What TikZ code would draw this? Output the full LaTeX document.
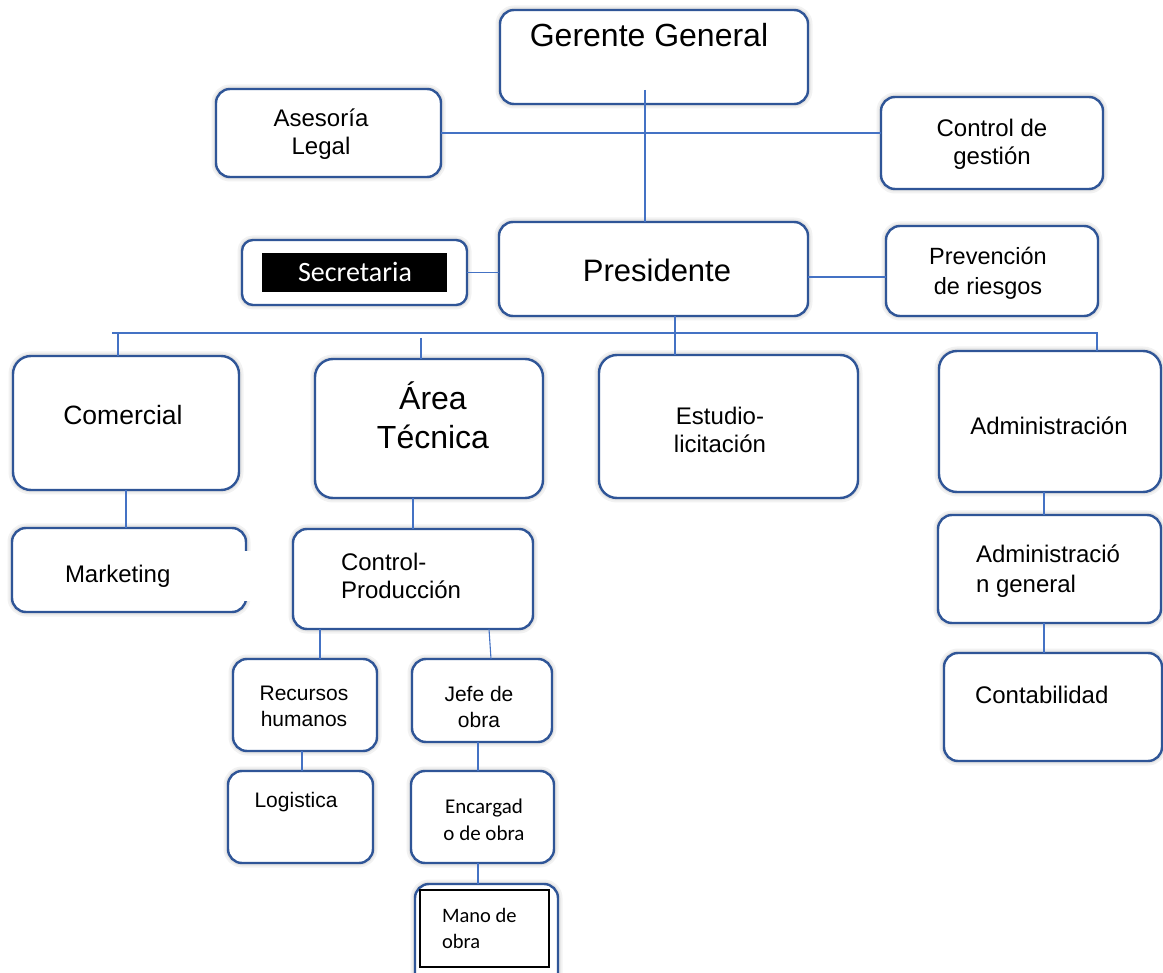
\documentclass[tikz,border=0pt]{standalone}
\usepackage{fontspec}
\setmainfont{Liberation Sans}
\newfontfamily\calibri{Carlito}
\definecolor{boxblue}{RGB}{47,85,151}
\definecolor{lineblue}{RGB}{68,114,196}
\newcommand\mybox[6][]{\node[box,#1, minimum width={(#5)-(#3)}, minimum height={(#6)-(#4)}] (#2) at ({((#3)+(#5))/2},{((#4)+(#6))/2}) {};}
\tikzset{
  box/.style={draw=boxblue, line width=2.4pt, rounded corners=14pt, fill=white, inner sep=0pt, outer sep=0pt,
    preaction={draw=black, opacity=0.05, line width=9pt},
    preaction={draw=black, opacity=0.06, line width=5pt}},
  conn/.style={draw=lineblue, line width=1.1pt},
  txt/.style={inner sep=0pt, outer sep=0pt, align=center, text=black},
  ltxt/.style={inner sep=0pt, outer sep=0pt, align=left, text=black},
  f32/.style={font=\fontsize{32}{39}\selectfont},
  f31/.style={font=\fontsize{31}{37}\selectfont},
  f26/.style={font=\fontsize{26.5}{31}\selectfont},
  f24/.style={font=\fontsize{24}{28}\selectfont},
  f21/.style={font=\fontsize{21}{26}\selectfont},
}
\begin{document}
\begin{tikzpicture}[x=1pt,y=-1pt]
\useasboundingbox[fill=white] (0,0) rectangle (1163,973);
% boxes
\mybox{gg}{500}{10}{808}{104}
\mybox{ases}{216}{89}{441}{177}
\mybox{ctrl}{881}{97}{1103}{189}
\mybox[rounded corners=11pt]{sec}{242}{240}{467}{305}
\mybox{pres}{499}{222}{808}{316}
\mybox{prev}{886}{226}{1098}{316}
\mybox[rounded corners=18pt]{com}{13}{356}{239}{490}
\mybox[rounded corners=18pt]{at}{315}{359}{543}{498}
\mybox[rounded corners=18pt]{estu}{599}{355}{858}{498}
\mybox[rounded corners=18pt]{adm}{939}{351}{1161}{492}
\mybox{mkt}{12}{528}{246}{612}
\mybox{cp}{293}{529}{533}{629}
\mybox{admg}{938}{515}{1161}{623}
\mybox{cont}{944}{653}{1162}{761}
\mybox{rh}{233}{659}{377}{751}
\mybox{jefe}{412}{659}{552}{742}
\mybox{log}{228}{771}{373}{863}
\mybox{enc}{411}{771}{554}{863}
\mybox{mano}{415}{884}{558}{990}
\fill[white] (236,551) rectangle (252,601);
% inner boxes
\node[fill=black, inner sep=0pt, minimum width=185, minimum height=39] (secin) at (354.5,272.5) {};
\node[draw=black, line width=2pt, fill=white, inner sep=0pt, minimum width=129, minimum height=77] (manoin) at (484.5,928.5) {};
% texts (multi-line nodes: base = last line)
\node[txt, f32, anchor=base] (gg-t) at (649,47) {Gerente General};
\node[txt, f24, anchor=base] (ases-t) at (321,155) {Asesoría\\Legal};
\node[txt, f24, anchor=base] (ctrl-t) at (992,165) {Control de\\gestión};
\node[txt, anchor=base, text=white, font=\calibri\fontsize{28}{32}\selectfont] (sec-t) at (355,282) {Secretaria};
\node[txt, f31, anchor=base] (pres-t) at (657,282) {Presidente};
\node[txt, font=\fontsize{23.5}{30}\selectfont, anchor=base] (prev-t) at (988,295) {Prevención\\de riesgos};
\node[txt, f26, anchor=base] (com-t) at (123,425) {Comercial};
\node[txt, f32, anchor=base] (at-t) at (433,449) {Área\\Técnica};
\node[txt, f24, anchor=base] (estu-t) at (720,453) {Estudio-\\licitación};
\node[txt, f24, anchor=base] (adm-t) at (1049,435) {Administración};
\node[ltxt, font=\fontsize{24}{31}\selectfont, anchor=base west] (admg-t) at (976,593) {Administració\\n general};
\node[ltxt, f24, anchor=base west] (cont-t) at (975,703) {Contabilidad};
\node[ltxt, f24, anchor=base west] (mkt-t) at (65,583) {Marketing};
\node[ltxt, f24, anchor=base west] (cp-t) at (341,598) {Control-\\Producción};
\node[txt, f21, anchor=base] (rh-t) at (304,726) {Recursos\\humanos};
\node[txt, f21, anchor=base] (jefe-t) at (479,727) {Jefe de\\obra};
\node[txt, f21, anchor=base] (log-t) at (296,807) {Logistica};
\node[txt, anchor=base, font=\calibri\fontsize{21}{27}\selectfont] (enc-t) at (484,840) {Encargad\\o de obra};
\node[ltxt, anchor=base west, font=\calibri\fontsize{20.5}{26}\selectfont] (mano-t) at (442,948) {Mano de\\obra};
% connectors
\coordinate (ggin) at (645,90);
\draw[conn] (ggin) -- (ggin |- pres.north);
\draw[conn] (ases.east) -- (ases.east -| ctrl.west);
\draw[conn] (sec.east) -- (sec.east -| pres.west);
\coordinate (pp) at (808,277);
\draw[conn] (pp -| pres.east) -- (pp -| prev.west);
\coordinate (busL) at (112,333);
\coordinate (busR) at (1098,333);
\draw[conn] (busL) -- (busR);
\coordinate (pd) at (675,333);
\draw[conn] (pd |- pres.south) -- (pd |- estu.north);
\coordinate (d1) at (118,333);
\draw[conn] (d1) -- (d1 |- com.north);
\coordinate (d2) at (421,338);
\draw[conn] (d2) -- (d2 |- at.north);
\coordinate (d4) at (1097,333);
\draw[conn] (d4) -- (d4 |- adm.north);
\draw[conn] (com.south) -- (com.south |- mkt.north);
\draw[conn] (cp.north) -- (cp.north |- at.south);
\coordinate (c1) at (320,0);
\draw[conn] (c1 |- cp.south) -- (c1 |- rh.north);
\coordinate (c2a) at (489,0);
\coordinate (c2b) at (491,0);
\draw[conn] (c2a |- cp.south) -- (c2b |- jefe.north);
\coordinate (c3) at (302,0);
\draw[conn] (c3 |- rh.south) -- (c3 |- log.north);
\coordinate (c4) at (478,0);
\draw[conn] (c4 |- jefe.south) -- (c4 |- enc.north);
\draw[conn] (c4 |- enc.south) -- (c4 |- mano.north);
\coordinate (c5) at (1044,0);
\draw[conn] (c5 |- adm.south) -- (c5 |- admg.north);
\draw[conn] (c5 |- admg.south) -- (c5 |- cont.north);
\end{tikzpicture}
\end{document}
